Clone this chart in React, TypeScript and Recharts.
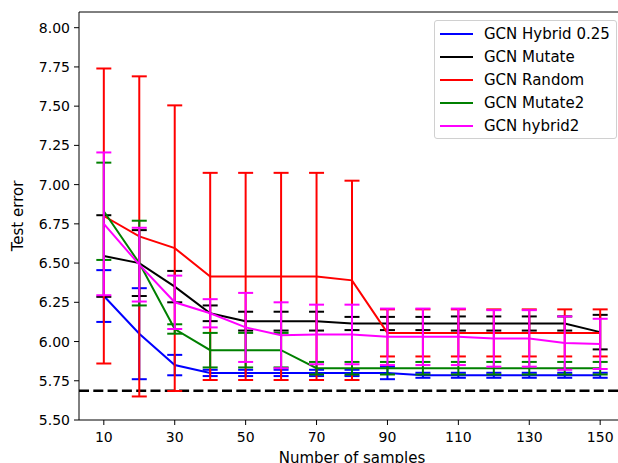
import React from 'react';
import { LineChart, Line, XAxis, YAxis, ErrorBar, ReferenceLine, Legend } from 'recharts';

const samples = [10, 20, 30, 40, 50, 60, 70, 80, 90, 100, 110, 120, 130, 140, 150];

const hybridMean = [6.29, 6.05, 5.85, 5.8, 5.8, 5.8, 5.8, 5.8, 5.8, 5.785, 5.785, 5.785, 5.785, 5.785, 5.785];
const hybridErr = [0.165, 0.29, 0.065, 0.02, 0.02, 0.02, 0.02, 0.02, 0.04, 0.016, 0.016, 0.016, 0.016, 0.016, 0.016];

const mutateMean = [6.545, 6.5, 6.35, 6.18, 6.13, 6.13, 6.13, 6.115, 6.115, 6.115, 6.115, 6.115, 6.115, 6.115, 6.06];
const mutateErr = [0.26, 0.21, 0.1, 0.05, 0.06, 0.06, 0.06, 0.042, 0.042, 0.042, 0.045, 0.045, 0.045, 0.045, 0.11];

const randomMean = [6.8, 6.67, 6.595, 6.415, 6.415, 6.415, 6.415, 6.39, 6.055, 6.055, 6.055, 6.055, 6.055, 6.055, 6.055];
const randomErr = [0.94, 1.02, 0.91, 0.66, 0.66, 0.66, 0.66, 0.635, 0.15, 0.15, 0.15, 0.15, 0.15, 0.15, 0.15];

const mutate2Mean = [6.83, 6.5, 6.08, 5.945, 5.945, 5.945, 5.83, 5.83, 5.83, 5.83, 5.83, 5.83, 5.83, 5.83, 5.83];
const mutate2Err = [0.31, 0.27, 0.03, 0.11, 0.11, 0.11, 0.04, 0.04, 0.04, 0.04, 0.04, 0.04, 0.04, 0.04, 0.04];

const hybrid2Mean = [6.75, 6.49, 6.25, 6.18, 6.09, 6.04, 6.045, 6.045, 6.03, 6.03, 6.03, 6.02, 6.02, 5.99, 5.985];
const hybrid2Err = [0.455, 0.235, 0.17, 0.09, 0.22, 0.21, 0.19, 0.19, 0.18, 0.18, 0.18, 0.18, 0.18, 0.17, 0.16];

const xTicks = [10, 30, 50, 70, 90, 110, 130, 150];
const yTicks = [5.5, 5.75, 6.0, 6.25, 6.5, 6.75, 7.0, 7.25, 7.5, 7.75, 8.0];
const baseline = 5.687;

const series = [
  { key: 'hybrid', name: 'GCN Hybrid 0.25', color: '#0000ff' },
  { key: 'mutate', name: 'GCN Mutate', color: '#000000' },
  { key: 'random', name: 'GCN Random', color: '#ff0000' },
  { key: 'mutate2', name: 'GCN Mutate2', color: '#008000' },
  { key: 'hybrid2', name: 'GCN hybrid2', color: '#ff00ff' },
];

const data = samples.map((n, i) => ({
  n,
  hybrid: hybridMean[i], hybridErr: hybridErr[i],
  mutate: mutateMean[i], mutateErr: mutateErr[i],
  random: randomMean[i], randomErr: randomErr[i],
  mutate2: mutate2Mean[i], mutate2Err: mutate2Err[i],
  hybrid2: hybrid2Mean[i], hybrid2Err: hybrid2Err[i],
}));

const FONT = '"DejaVu Sans", sans-serif';

const LegendBox = () => (
  <div
    style={{
      width: 183,
      height: 119,
      boxSizing: 'border-box',
      border: '1px solid #d0d0d0',
      borderRadius: 3,
      background: 'rgba(255,255,255,0.8)',
      fontFamily: FONT,
      fontSize: 15,
      color: '#000',
      paddingTop: 2,
    }}
  >
    {series.map(s => (
      <div key={s.key} style={{ display: 'flex', alignItems: 'center', height: 22.8 }}>
        <div style={{ width: 33, height: 2, background: s.color, marginLeft: 5, marginRight: 11 }} />
        <span>{s.name}</span>
      </div>
    ))}
  </div>
);

export default function App() {
  return (
    <div style={{ position: 'absolute', left: 0, top: 0, width: 618, height: 463, overflow: 'hidden', background: '#fff' }}>
      <LineChart width={640} height={463} data={data} margin={{ top: 12, right: 15, bottom: 0, left: 0 }}>
        <XAxis
          dataKey="n"
          type="number"
          domain={[3, 157]}
          ticks={xTicks}
          allowDataOverflow
          height={43}
          tickSize={5}
          tickMargin={7}
          stroke="#000"
          tick={{ fill: '#000', fontSize: 14, fontFamily: FONT }}
          label={{ value: 'Number of samples', position: 'insideBottom', offset: 0, fill: '#000', fontSize: 15, fontFamily: FONT }}
        />
        <YAxis
          type="number"
          domain={[5.5, 8.1]}
          ticks={yTicks}
          allowDataOverflow
          width={79}
          tickSize={5}
          tickMargin={4}
          stroke="#000"
          tick={{ fill: '#000', fontSize: 14, fontFamily: FONT }}
          tickFormatter={(v: number) => v.toFixed(2)}
          label={{ value: 'Test error', angle: -90, position: 'insideLeft', offset: 18, fill: '#000', fontSize: 15, fontFamily: FONT, style: { textAnchor: 'middle' } }}
        />
        <ReferenceLine y={8.1} stroke="#000" strokeWidth={1} />
        <ReferenceLine y={baseline} stroke="#000" strokeWidth={2.5} strokeDasharray="10 4.3" />
        {series.map(s => (
          <Line
            key={s.key}
            type="linear"
            dataKey={s.key}
            name={s.name}
            stroke={s.color}
            strokeWidth={2}
            dot={false}
            activeDot={false}
            isAnimationActive={false}
          >
            <ErrorBar dataKey={`${s.key}Err`} width={7.5} stroke={s.color} strokeWidth={2} direction="y" isAnimationActive={false} />
          </Line>
        ))}
        <Legend
          layout="vertical"
          align="center"
          verticalAlign="middle"
          content={() => <LegendBox />}
          wrapperStyle={{ position: 'absolute', left: 434, top: 20, width: 183, height: 119 }}
        />
      </LineChart>
    </div>
  );
}
